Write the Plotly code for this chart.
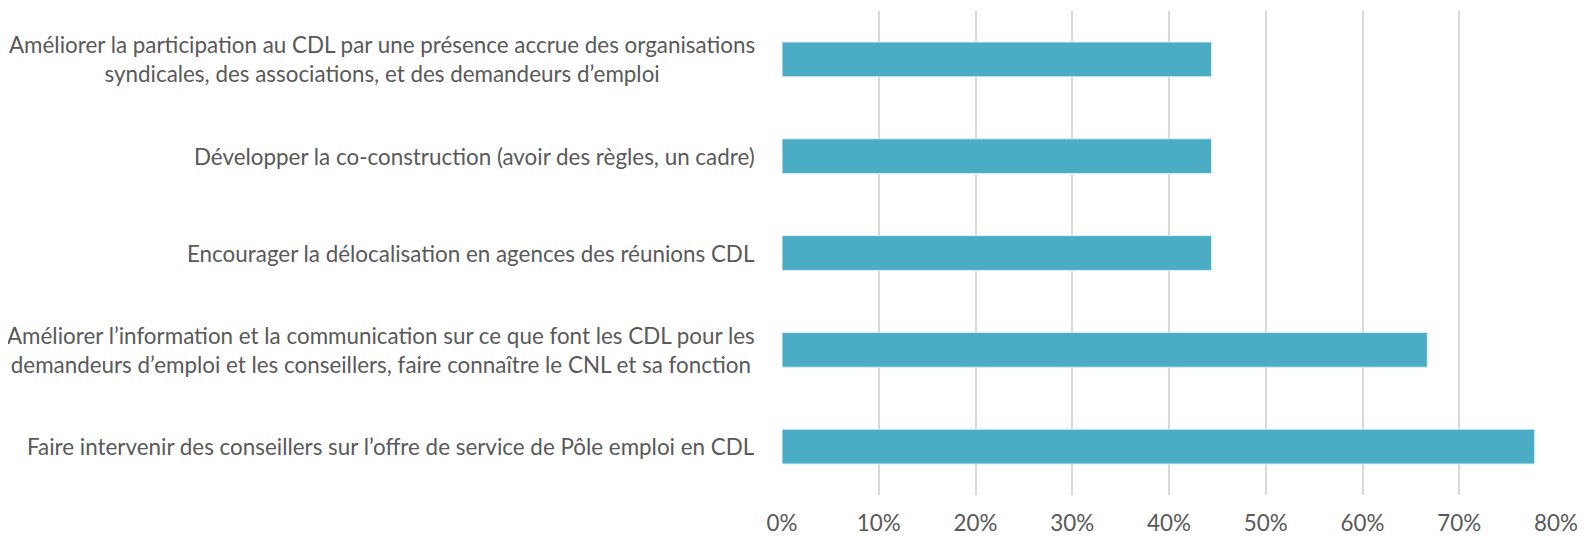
import plotly.graph_objects as go

categories = [
    "Améliorer la participation au CDL par une présence accrue des organisations<br>syndicales, des associations, et des demandeurs d’emploi",
    "Développer la co-construction (avoir des règles, un cadre)",
    "Encourager la délocalisation en agences des réunions CDL",
    "Améliorer l’information et la communication sur ce que font les CDL pour les<br>demandeurs d’emploi et les conseillers, faire connaître le CNL et sa fonction",
    "Faire intervenir des conseillers sur l’offre de service de Pôle emploi en CDL",
]
values = [0.444, 0.444, 0.444, 0.667, 0.778]
tick_vals = [0, 0.1, 0.2, 0.3, 0.4, 0.5, 0.6, 0.7, 0.8]
tick_text = ["0%", "10%", "20%", "30%", "40%", "50%", "60%", "70%", "80%"]

FONT = "Lato"
TXT = "#595959"
FS = 22.4

fig = go.Figure()
fig.add_trace(go.Bar(
    x=values, y=list(range(len(categories))), orientation="h",
    marker=dict(color="#4BACC6", line=dict(color="#dff1f6", width=1)),
    width=0.36, hoverinfo="x",
))

for i, c in enumerate(categories):
    fig.add_annotation(
        x=0.0, xref="paper", xanchor="right", xshift=-25,
        y=i, yref="y", yanchor="middle",
        text=c, showarrow=False, align="center",
        font=dict(family=FONT, size=FS, color=TXT),
    )

fig.update_xaxes(
    range=[0, 0.8], tickvals=tick_vals, ticktext=tick_text,
    showgrid=True, gridcolor="#d9d9d9", gridwidth=1.5,
    zeroline=False, showline=False, automargin=False,
    tickfont=dict(family=FONT, size=FS, color=TXT),
    ticks="outside", ticklen=8, tickcolor="rgba(0,0,0,0)",
)
fig.update_yaxes(
    range=[4.5, -0.5], showticklabels=False, showgrid=False,
    zeroline=False, showline=False, automargin=False,
)
fig.update_layout(
    width=1585, height=530,
    margin=dict(l=774, r=37, t=3, b=43),
    plot_bgcolor="white", paper_bgcolor="white",
    showlegend=False,
)
fig.write_html("out.html")
